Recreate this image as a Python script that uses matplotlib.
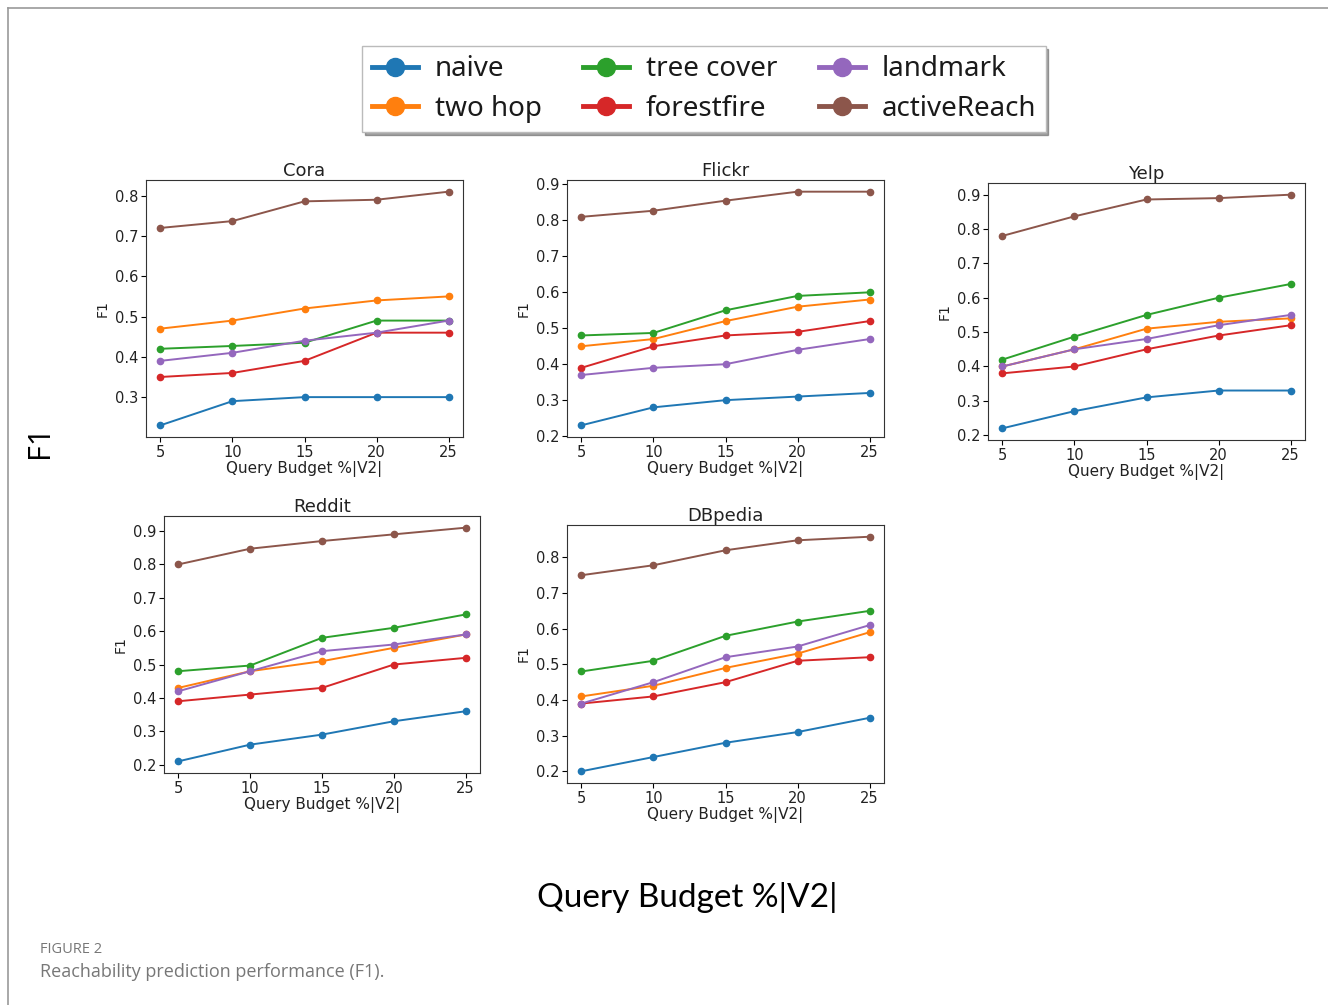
import matplotlib
matplotlib.use("Agg")
import matplotlib.pyplot as plt
from matplotlib.lines import Line2D

# Query budget (% of |V2|)
budget = [5, 10, 15, 20, 25]
methods = ["naive", "two hop", "tree cover", "forestfire", "landmark", "activeReach"]
colors = ["#1f77b4", "#ff7f0e", "#2ca02c", "#d62728", "#9467bd", "#8c564b"]

# F1 per dataset, rows follow `methods`
cora = [
    [0.23, 0.29, 0.30, 0.30, 0.30],
    [0.47, 0.49, 0.52, 0.54, 0.55],
    [0.42, 0.427, 0.435, 0.49, 0.49],
    [0.35, 0.36, 0.39, 0.46, 0.46],
    [0.39, 0.41, 0.44, 0.46, 0.49],
    [0.72, 0.737, 0.786, 0.79, 0.81],
]
flickr = [
    [0.23, 0.28, 0.30, 0.31, 0.32],
    [0.45, 0.47, 0.52, 0.56, 0.58],
    [0.48, 0.487, 0.55, 0.59, 0.60],
    [0.39, 0.45, 0.48, 0.49, 0.52],
    [0.37, 0.39, 0.40, 0.44, 0.47],
    [0.81, 0.827, 0.855, 0.88, 0.88],
]
yelp = [
    [0.22, 0.27, 0.31, 0.33, 0.33],
    [0.40, 0.45, 0.51, 0.53, 0.54],
    [0.42, 0.487, 0.55, 0.60, 0.64],
    [0.38, 0.40, 0.45, 0.49, 0.52],
    [0.40, 0.45, 0.48, 0.52, 0.55],
    [0.78, 0.837, 0.886, 0.89, 0.90],
]
reddit = [
    [0.21, 0.26, 0.29, 0.33, 0.36],
    [0.43, 0.48, 0.51, 0.55, 0.59],
    [0.48, 0.497, 0.58, 0.61, 0.65],
    [0.39, 0.41, 0.43, 0.50, 0.52],
    [0.42, 0.48, 0.54, 0.56, 0.59],
    [0.80, 0.847, 0.87, 0.89, 0.91],
]
dbpedia = [
    [0.20, 0.24, 0.28, 0.31, 0.35],
    [0.41, 0.44, 0.49, 0.53, 0.59],
    [0.48, 0.51, 0.58, 0.62, 0.65],
    [0.39, 0.41, 0.45, 0.51, 0.52],
    [0.39, 0.45, 0.52, 0.55, 0.61],
    [0.75, 0.778, 0.82, 0.848, 0.858],
]

panels = [
    ("Cora", cora, [146, 180, 463, 437]),
    ("Flickr", flickr, [567, 180, 884, 437]),
    ("Yelp", yelp, [988, 183, 1305, 440]),
    ("Reddit", reddit, [164, 516, 480, 773]),
    ("DBpedia", dbpedia, [567, 525, 884, 783]),
]

W, H = 1328, 1005
fig = plt.figure(figsize=(W / 100, H / 100), dpi=100)

for name, data, (x0, y0, x1, y1) in panels:
    ax = fig.add_axes([x0 / W, 1 - y1 / H, (x1 - x0) / W, (y1 - y0) / H])
    for vals, c in zip(data, colors):
        ax.plot(budget, vals, color=c, marker="o", markersize=4.5, linewidth=1.4)
    ax.set_title(name, fontsize=13, pad=3, color="#222222")
    ax.set_xlabel("Query Budget %|V2|", fontsize=11, labelpad=1, color="#222222")
    ax.set_ylabel("F1", fontsize=10, labelpad=4, color="#222222")
    ax.set_xticks(budget)
    ax.tick_params(labelsize=10.5, length=3.5, pad=2, labelcolor="#222222")
    for s in ax.spines.values():
        s.set_color("#333333")

# legend
handles = [Line2D([], [], color=c, marker="o", markersize=13, linewidth=3.5) for c in colors]
leg = fig.legend(handles, methods, ncol=3, loc="center",
                 bbox_to_anchor=(704 / W, 1 - 89 / H),
                 prop={"family": ["Noto Sans", "DejaVu Sans"], "stretch": "semi-condensed", "size": 20},
                 shadow=True, fancybox=False, handlelength=1.65, columnspacing=1.5,
                 handletextpad=0.6, labelspacing=0.4, borderpad=0.35, frameon=True)
leg.get_frame().set_edgecolor("#bbbbbb")
for t in leg.get_texts():
    t.set_color("#1a1a1a")

# shared labels
fig.text(40 / W, 1 - 441 / H, "F1", rotation=90, fontsize=22, ha="center", va="center",
         family=["Open Sans", "DejaVu Sans"])
fig.text(687 / W, 1 - 897 / H, "Query Budget %|V2|", fontsize=24, ha="center", va="center",
         family=["Lato", "DejaVu Sans"])

# caption
fig.text(40 / W, 1 - 949 / H, "FIGURE 2", fontsize=10.5, color="#777777", va="center",
         family=["Open Sans", "DejaVu Sans"])
fig.text(40 / W, 1 - 972 / H, "Reachability prediction performance (F1).", fontsize=13,
         color="#777777", va="center", family=["Open Sans", "DejaVu Sans"])

# page border (top and left)
fig.add_artist(Line2D([8 / W, 1], [1 - 8 / H, 1 - 8 / H], color="#999999", linewidth=1.2))
fig.add_artist(Line2D([8 / W, 8 / W], [0, 1 - 8 / H], color="#999999", linewidth=1.2))

fig.savefig("out.png", dpi=100)
